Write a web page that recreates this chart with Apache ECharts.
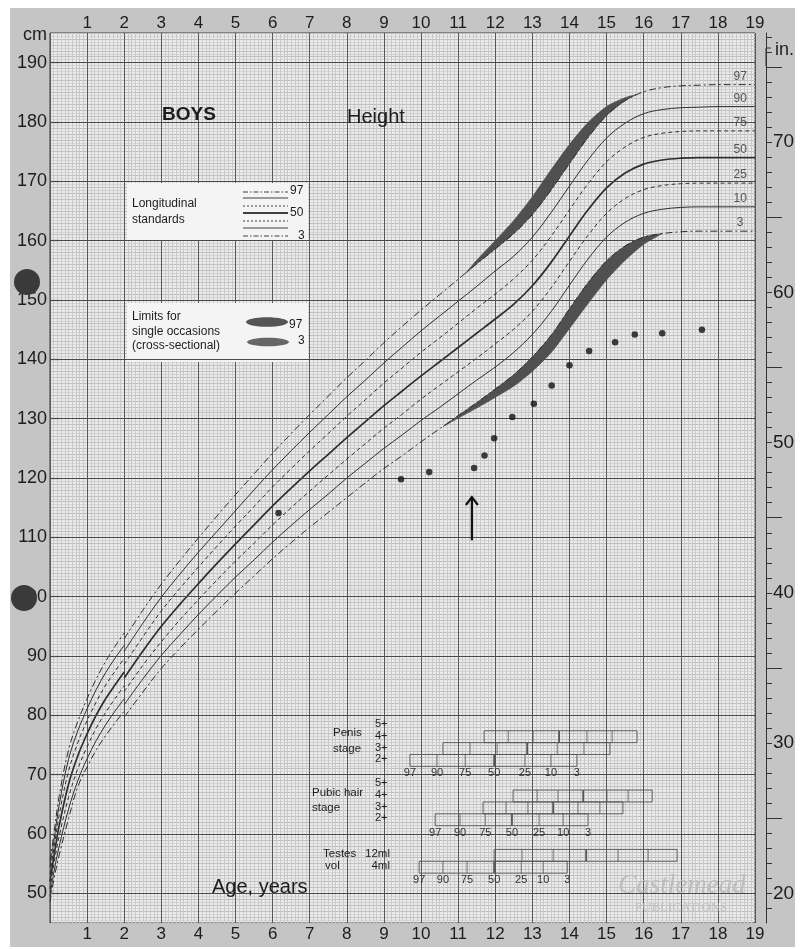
<!DOCTYPE html>
<html>
<head>
<meta charset="utf-8">
<title>Boys height</title>
<script src="https://cdn.jsdelivr.net/npm/echarts@6.0.0/dist/echarts.min.js"></script>
<style>
html,body{margin:0;padding:0;background:#fff;}
#chart{width:803px;height:949px;}
</style>
</head>
<body>
<div id="chart"></div>
<script>
// ---------------- data ----------------
const centileNames = ['97', '90', '75', '50', '25', '10', '3'];

// supine length, birth to 2 years
const infantAges = [0, 0.1, 0.25, 0.5, 0.75, 1, 1.25, 1.5, 1.75, 2];
const len97 = [55.5, 59.8, 66.5, 74.2, 79.0, 82.8, 86.2, 89.1, 91.6, 93.9];
const len90 = [54.5, 58.6, 65.0, 72.6, 77.4, 81.1, 84.4, 87.2, 89.6, 91.8];
const len75 = [53.3, 57.3, 63.3, 70.6, 75.4, 79.1, 82.3, 85.1, 87.4, 89.6];
const len50 = [52.0, 56.0, 61.5, 68.4, 73.2, 76.9, 80.1, 82.8, 85.1, 87.3];
const len25 = [50.7, 54.7, 59.7, 66.2, 71.0, 74.7, 77.9, 80.5, 82.8, 85.0];
const len10 = [49.5, 53.4, 58.0, 64.2, 69.0, 72.7, 75.8, 78.4, 80.7, 82.8];
const len3  = [48.5, 52.2, 56.5, 62.6, 68.0, 71.3, 74.2, 76.6, 78.7, 80.7];

// standing height, 2 to 19 years
const childAges = [2, 2.5, 3, 3.5, 4, 4.5, 5, 5.5, 6, 6.5, 7, 7.5, 8, 8.5, 9, 9.5, 10, 10.5, 11, 11.5,
                   12, 12.5, 13, 13.5, 14, 14.5, 15, 15.5, 16, 16.5, 17, 17.5, 18, 18.5, 19];
const ht97 = [92.9, 97.7, 102.1, 106.1, 109.9, 113.6, 117.2, 120.7, 124.2, 127.5, 130.7, 133.8, 136.9, 139.8, 142.8, 145.6, 148.3, 150.9, 153.5, 156.1,
              158.6, 161.2, 164.4, 168.5, 173.0, 177.4, 181.1, 183.6, 185.1, 185.8, 186.1, 186.2, 186.3, 186.3, 186.3];
const ht90 = [90.8, 95.5, 99.9, 103.8, 107.5, 111.0, 114.5, 118.0, 121.4, 124.6, 127.7, 130.7, 133.7, 136.5, 139.4, 142.1, 144.8, 147.3, 149.8, 152.3,
              154.9, 157.4, 160.6, 164.7, 169.2, 173.6, 177.3, 179.8, 181.4, 182.1, 182.4, 182.5, 182.6, 182.6, 182.6];
const ht75 = [88.6, 93.2, 97.6, 101.4, 105.0, 108.5, 111.9, 115.2, 118.5, 121.6, 124.6, 127.5, 130.4, 133.2, 136.0, 138.6, 141.2, 143.6, 146.1, 148.6,
              151.0, 153.6, 156.7, 160.7, 165.2, 169.6, 173.3, 175.8, 177.4, 178.1, 178.4, 178.5, 178.5, 178.5, 178.5];
const ht50 = [86.3, 90.8, 95.0, 98.7, 102.2, 105.6, 108.9, 112.1, 115.3, 118.3, 121.2, 124.0, 126.8, 129.5, 132.2, 134.7, 137.2, 139.6, 142.0, 144.4,
              146.8, 149.3, 152.4, 156.3, 160.8, 165.2, 168.9, 171.4, 172.9, 173.6, 173.9, 174.0, 174.0, 174.0, 174.0];
const ht25 = [84.0, 88.4, 92.4, 96.1, 99.5, 102.8, 106.0, 109.0, 112.1, 115.0, 117.8, 120.5, 123.2, 125.8, 128.4, 130.8, 133.3, 135.6, 137.9, 140.2,
              142.6, 145.1, 148.1, 152.0, 156.5, 160.9, 164.6, 167.1, 168.6, 169.3, 169.6, 169.7, 169.7, 169.7, 169.7];
const ht10 = [81.8, 86.1, 90.1, 93.6, 97.0, 100.2, 103.3, 106.2, 109.2, 112.0, 114.7, 117.3, 120.0, 122.5, 125.0, 127.3, 129.7, 131.9, 134.2, 136.5,
              138.7, 141.2, 144.2, 148.0, 152.5, 156.9, 160.6, 163.1, 164.6, 165.3, 165.6, 165.7, 165.7, 165.7, 165.7];
const ht3  = [79.7, 83.9, 87.9, 91.3, 94.5, 97.6, 100.6, 103.5, 106.4, 109.1, 111.7, 114.2, 116.7, 119.2, 121.6, 123.8, 126.1, 128.3, 130.5, 132.7,
              135.0, 137.4, 140.4, 144.0, 148.5, 152.9, 156.6, 159.1, 160.6, 161.2, 161.5, 161.6, 161.6, 161.6, 161.6];

// cross-sectional limits for single occasions (shaded)
const hiBandAges  = [11.2, 11.5, 12, 12.5, 13, 13.5, 14, 14.5, 15, 15.5, 15.8];
const hiBandLow   = [154.5, 156.1, 158.6, 161.2, 164.4, 168.5, 173.0, 177.4, 181.1, 183.6, 184.6];
const hiBandHigh  = [154.5, 156.7, 160.0, 163.4, 167.4, 171.9, 176.2, 179.9, 182.6, 184.1, 184.6];
const loBandAges  = [10.6, 11, 11.5, 12, 12.5, 13, 13.5, 14, 14.5, 15, 15.5, 16, 16.5];
const loBandHigh  = [128.7, 130.5, 132.7, 135.0, 137.4, 140.4, 144.0, 148.5, 152.9, 156.6, 159.1, 160.6, 161.2];
const loBandLow   = [128.7, 130.1, 131.8, 133.6, 135.5, 138.0, 141.1, 145.2, 149.4, 153.4, 156.7, 159.4, 161.2];

// patient measurements
const ptAges    = [6.16, 9.46, 10.22, 11.43, 11.71, 11.97, 12.46, 13.04, 13.52, 14.0, 14.53, 15.23, 15.76, 16.5, 17.57];
const ptHeights = [114.1, 119.8, 121.0, 121.7, 123.8, 126.7, 130.3, 132.5, 135.6, 139.0, 141.4, 142.9, 144.2, 144.4, 145.0];
const arrowAge = 11.37, arrowFrom = 109.5, arrowTo = 116.8;

// pubertal stage ages at centiles 97..3
const penis4   = [11.70, 12.35, 13.02, 13.72, 14.47, 15.15, 15.82];
const penis3   = [10.59, 11.32, 12.05, 12.86, 13.67, 14.39, 15.09];
const penis2   = [9.70, 10.43, 11.19, 11.97, 12.80, 13.50, 14.20];
const pubic4   = [12.48, 13.13, 13.69, 14.37, 15.01, 15.58, 16.23];
const pubic3   = [11.67, 12.29, 12.88, 13.56, 14.23, 14.82, 15.44];
const pubic2   = [10.38, 11.05, 11.73, 12.45, 13.18, 13.83, 14.50];
const testes12 = [11.97, 12.72, 13.56, 14.45, 15.31, 16.12, 16.90];
const testes4  = [9.95, 10.59, 11.24, 11.97, 12.70, 13.29, 13.94];

// tick labels
const cmLabels = [50, 60, 70, 80, 90, 100, 110, 120, 130, 140, 150, 160, 170, 180, 190];
const inchLabels = [20, 30, 40, 50, 60, 70];
const inchLongTicks = [25, 35, 45, 55, 65, 75];

// ---------------- presentation ----------------
const FONT = "'Liberation Sans', Arial, Helvetica, sans-serif";
const INK = '#1d1d1d';
const CURVE = '#2e2e2e';
const DASHDOT = [7, 3, 2, 3];
const DASH = [4, 3];
const curveStyle = {
  '97': {type: DASHDOT, width: 1},
  '90': {type: 'solid', width: 1},
  '75': {type: DASH, width: 1},
  '50': {type: 'solid', width: 1.7},
  '25': {type: DASH, width: 1},
  '10': {type: 'solid', width: 1},
  '3':  {type: DASHDOT, width: 1}
};
const infantSets = [len97, len90, len75, len50, len25, len10, len3];
const childSets = [ht97, ht90, ht75, ht50, ht25, ht10, ht3];

const inchMinor = [];
for (let v = 19; v <= 77; v++) inchMinor.push(v);

const series = [];

// major 10-cm grid lines
series.push({
  type: 'line', data: [[0, 45]], symbol: 'none', silent: true, z: 1,
  lineStyle: {opacity: 0},
  markLine: {
    silent: true, symbol: 'none', label: {show: false},
    lineStyle: {color: '#4a4a4a', width: 1, type: 'solid'},
    emphasis: {disabled: true},
    data: cmLabels.map(v => ({yAxis: v}))
  }
});

function zip(xs, ys) { return xs.map((x, i) => [x, ys[i]]); }

// shaded bands
function bandSeries(ages, low, high) {
  return {
    type: 'custom', xAxisIndex: 0, yAxisIndex: 0, silent: true, z: 3,
    data: [[ages[0], low[0]]],
    renderItem: (params, api) => {
      const pts = ages.map((a, i) => api.coord([a, low[i]]))
        .concat(ages.map((a, i) => api.coord([a, high[i]])).reverse());
      return {type: 'polygon', shape: {points: pts, smooth: 0.25}, style: {fill: '#505050', stroke: '#505050', lineWidth: 0.8}};
    }
  };
}
series.push(bandSeries(hiBandAges, hiBandLow, hiBandHigh));
series.push(bandSeries(loBandAges, loBandLow, loBandHigh));

// centile curves
centileNames.forEach((n, k) => {
  [[infantAges, infantSets[k]], [childAges, childSets[k]]].forEach(([xs, ys]) => {
    series.push({
      type: 'line', name: n, xAxisIndex: 0, yAxisIndex: 0, silent: true, z: 4,
      data: zip(xs, ys), symbol: 'none', smooth: 0.35,
      lineStyle: {color: CURVE, width: curveStyle[n].width, type: curveStyle[n].type}
    });
  });
});

// centile labels at the right end of the curves
series.push({
  type: 'custom', xAxisIndex: 0, yAxisIndex: 0, silent: true, z: 5,
  data: centileNames.map((n, k) => [18.6, childSets[k][childSets[k].length - 1], k]),
  renderItem: (params, api) => {
    const p = api.coord([api.value(0), api.value(1)]);
    return {type: 'text', style: {text: centileNames[api.value(2)], x: p[0], y: p[1] - 8,
      fill: '#555', fontSize: 12, fontFamily: FONT, align: 'center', verticalAlign: 'middle'}};
  }
});

// patient points
series.push({
  type: 'scatter', xAxisIndex: 0, yAxisIndex: 0, silent: true, z: 6,
  data: zip(ptAges, ptHeights), symbol: 'circle', symbolSize: 6.5,
  itemStyle: {color: '#111'}
});

// arrow
series.push({
  type: 'custom', xAxisIndex: 0, yAxisIndex: 0, silent: true, z: 6,
  data: [[arrowAge, arrowFrom, arrowTo]],
  renderItem: (params, api) => {
    const p0 = api.coord([api.value(0), api.value(1)]);
    const p1 = api.coord([api.value(0), api.value(2)]);
    return {type: 'group', children: [
      {type: 'line', shape: {x1: p0[0], y1: p0[1], x2: p1[0], y2: p1[1]}, style: {stroke: '#111', lineWidth: 2.2}},
      {type: 'polyline', shape: {points: [[p1[0] - 6, p1[1] + 8], [p1[0], p1[1]], [p1[0] + 6, p1[1] + 8]]},
       style: {stroke: '#111', lineWidth: 2.2, fill: 'none'}}
    ]};
  }
});

// pubertal stage rows (vertical placement in cm-scale layout units)
const ROW_H = 2;
const stageRows = [
  {ages: penis4, top: 77.4}, {ages: penis3, top: 75.4}, {ages: penis2, top: 73.4, labels: true},
  {ages: pubic4, top: 67.4}, {ages: pubic3, top: 65.4}, {ages: pubic2, top: 63.4, labels: true},
  {ages: testes12, top: 57.4}, {ages: testes4, top: 55.4, labels: true}
];
series.push({
  type: 'custom', xAxisIndex: 0, yAxisIndex: 0, silent: true, z: 5,
  data: stageRows.map(r => [r.ages[0], r.top]),
  renderItem: (params, api) => {
    const r = stageRows[params.dataIndex];
    const yT = api.coord([r.ages[0], r.top])[1];
    const yB = api.coord([r.ages[0], r.top - ROW_H])[1];
    const xs = r.ages.map(a => api.coord([a, r.top])[0]);
    const ch = [{type: 'rect', shape: {x: xs[0], y: yT, width: xs[6] - xs[0], height: yB - yT},
                 style: {fill: 'transparent', stroke: '#555', lineWidth: 0.9}}];
    for (let k = 1; k < 6; k++) {
      ch.push({type: 'line', shape: {x1: xs[k], y1: yT, x2: xs[k], y2: yB},
               style: {stroke: '#555', lineWidth: k === 3 ? 1.8 : 0.8}});
    }
    if (r.labels) {
      centileNames.forEach((n, k) => ch.push({type: 'text', style: {text: n, x: xs[k], y: yB + 7,
        fill: '#333', fontSize: 11, fontFamily: FONT, align: 'center', verticalAlign: 'middle'}}));
    }
    return {type: 'group', children: ch};
  }
});

// ---------------- decorations ----------------
function txt(text, x, y, size, opts) {
  opts = opts || {};
  return {type: 'text', z: opts.z || 6, silent: true, style: {
    text: text, x: x, y: y, fill: opts.fill || INK, align: opts.align || 'left', verticalAlign: 'middle',
    font: (opts.style || '') + ' ' + (opts.weight || 'normal') + ' ' + size + 'px ' + (opts.family || FONT)
  }};
}
function gline(x1, y1, x2, y2, dash, w) {
  return {type: 'line', z: 6, silent: true, shape: {x1: x1, y1: y1, x2: x2, y2: y2},
          style: {stroke: '#404040', lineWidth: w || 1, lineDash: dash || null}};
}

const graphics = [
  {type: 'rect', z: -10, silent: true, shape: {x: 10, y: 8, width: 785, height: 939}, style: {fill: '#c5c5c5'}},
  // titles
  txt('BOYS', 162, 115, 19, {weight: 'bold'}),
  txt('Height', 347, 117, 20),
  txt('Age, years', 212, 887, 20),
  txt('cm', 47, 35, 18, {align: 'right'}),
  txt('in.', 775, 50, 18),
  {type: 'polyline', z: 6, silent: true, shape: {points: [[771, 48], [766, 48], [766, 66]]}, style: {stroke: '#333', lineWidth: 1, fill: 'none'}},
  // legend box 1
  {type: 'rect', z: 5, silent: true, shape: {x: 127, y: 183, width: 181, height: 57}, style: {fill: '#f4f4f4'}},
  txt('Longitudinal', 132, 204, 12),
  txt('standards', 132, 220, 12),
  gline(243, 192, 288, 192, [5, 2, 1.5, 2]),
  gline(243, 198, 288, 198),
  gline(243, 206, 288, 206, [2, 2]),
  gline(243, 213, 288, 213, null, 1.8),
  gline(243, 221, 288, 221, [2, 2]),
  gline(243, 228, 288, 228),
  gline(243, 236, 288, 236, [5, 2, 1.5, 2]),
  txt('97', 290, 191, 12),
  txt('50', 290, 213, 12),
  txt('3', 298, 236, 12),
  // legend box 2
  {type: 'rect', z: 5, silent: true, shape: {x: 127, y: 303, width: 181, height: 59}, style: {fill: '#f4f4f4'}},
  txt('Limits for', 132, 317, 12),
  txt('single occasions', 132, 332, 12),
  txt('(cross-sectional)', 132, 346, 12),
  {type: 'ellipse', z: 6, silent: true, shape: {cx: 267, cy: 322, rx: 21, ry: 4.8}, style: {fill: '#555'}},
  {type: 'ellipse', z: 6, silent: true, shape: {cx: 268, cy: 342, rx: 21, ry: 4.3}, style: {fill: '#666'}},
  txt('97', 289, 325, 12),
  txt('3', 298, 341, 12),
  // pubertal stage captions
  txt('Penis', 333, 733, 11.5),
  txt('stage', 333, 749, 11.5),
  txt('5+', 375, 724, 11), txt('4+', 375, 736, 11), txt('3+', 375, 748, 11), txt('2+', 375, 759, 11),
  txt('Pubic hair', 312, 793, 11.5),
  txt('stage', 312, 808, 11.5),
  txt('5+', 375, 783, 11), txt('4+', 375, 795, 11), txt('3+', 375, 807, 11), txt('2+', 375, 818, 11),
  txt('Testes', 323, 854, 11.5), txt('12ml', 390, 854, 11.5, {align: 'right'}),
  txt('vol', 325, 866, 11.5), txt('4ml', 390, 866, 11.5, {align: 'right'}),
  // publisher mark
  txt('Castlemead', 682, 886, 27, {align: 'center', style: 'italic', family: "'Liberation Serif', 'DejaVu Serif', serif", fill: '#bdbdbd'}),
  txt('PUBLICATIONS', 681, 908, 13, {align: 'center', family: "'Liberation Serif', 'DejaVu Serif', serif", fill: '#c0c0c0'}),
  // binder holes
  {type: 'circle', z: 20, silent: true, shape: {cx: 27, cy: 282, r: 13}, style: {fill: '#3a3a3a'}},
  {type: 'circle', z: 20, silent: true, shape: {cx: 24, cy: 598, r: 13}, style: {fill: '#3a3a3a'}}
];

const xBase = {
  type: 'value', min: 0, max: 19, interval: 1,
  axisLine: {show: false, onZero: false}, axisTick: {show: false}
};

const option = {
  animation: false,
  backgroundColor: '#ffffff',
  grid: {left: 50, right: 48, top: 33, bottom: 26, show: true, backgroundColor: '#ebebeb',
         borderColor: '#3a3a3a', borderWidth: 1, z: 0},
  xAxis: [
    Object.assign({}, xBase, {
      position: 'bottom',
      axisLabel: {formatter: v => (v === 0 ? '' : String(v)), fontSize: 17, margin: 3, color: INK, fontFamily: FONT},
      splitLine: {show: true, lineStyle: {color: '#585858', width: 1}},
      minorTick: {show: false, splitNumber: 10},
      minorSplitLine: {show: true, lineStyle: {color: '#c9c9c9', width: 1}}
    }),
    Object.assign({}, xBase, {
      position: 'top',
      axisLabel: {formatter: v => (v === 0 ? '' : String(v)), fontSize: 17, margin: 1, color: INK, fontFamily: FONT},
      splitLine: {show: false}
    })
  ],
  yAxis: [
    { // cm labels
      type: 'value', min: 45, max: 195, position: 'left',
      axisLine: {show: false, onZero: false},
      axisTick: {show: true, inside: true, length: 10, customValues: cmLabels, lineStyle: {color: '#333', width: 1.2}},
      axisLabel: {customValues: cmLabels, fontSize: 18, margin: 3, color: INK, fontFamily: FONT},
      splitLine: {show: false}
    },
    { // inches
      type: 'value', min: 18.03, max: 77.26, position: 'right', offset: 11,
      axisLine: {show: true, onZero: false, lineStyle: {color: '#333', width: 1}},
      axisTick: {show: true, length: 6, customValues: inchMinor, lineStyle: {color: '#333'}},
      axisLabel: {customValues: inchLabels, fontSize: 19, margin: 7, color: INK, fontFamily: FONT},
      splitLine: {show: false}
    },
    { // fine cm grid
      type: 'value', min: 45, max: 195, interval: 1, position: 'left',
      axisLine: {show: false, onZero: false}, axisTick: {show: false}, axisLabel: {show: false},
      splitLine: {show: true, lineStyle: {color: '#bfbfbf', width: 1}},
      minorTick: {show: false, splitNumber: 2},
      minorSplitLine: {show: true, lineStyle: {color: '#d6d6d6', width: 1}}
    },
    { // long inch ticks
      type: 'value', min: 18.03, max: 77.26, position: 'right', offset: 11,
      axisLine: {show: false, onZero: false},
      axisTick: {show: true, length: 16, customValues: inchLongTicks, lineStyle: {color: '#333'}},
      axisLabel: {show: false},
      splitLine: {show: false}
    }
  ],
  graphic: {elements: graphics},
  series: series
};

const chart = echarts.init(document.getElementById('chart'), null, {renderer: 'canvas', width: 803, height: 949});
chart.setOption(option);
</script>
</body>
</html>
